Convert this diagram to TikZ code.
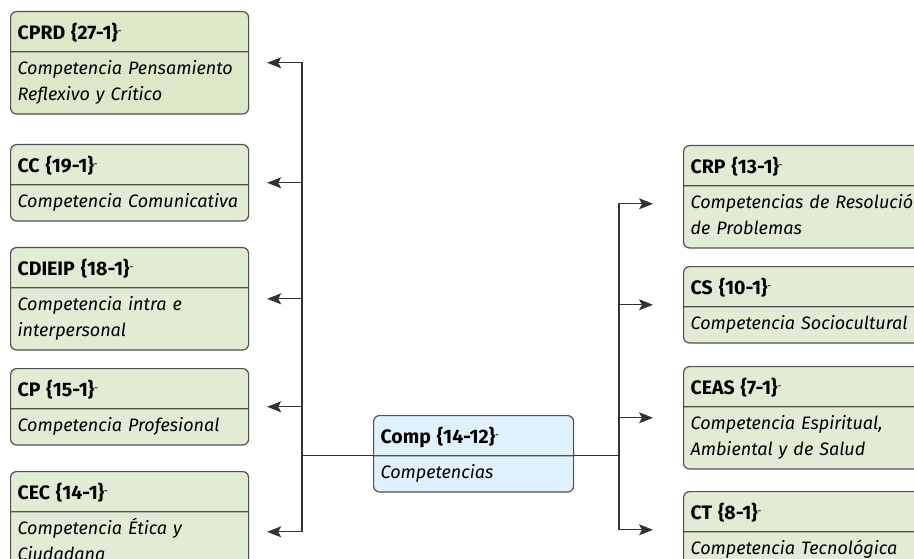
\documentclass[tikz,border=0pt]{standalone}
\usepackage{fontspec}
\setmainfont{Fira Sans}
\usetikzlibrary{arrows.meta, positioning, shapes.multipart}
\definecolor{cardgreen}{RGB}{226, 236, 213}
\definecolor{topgreen}{RGB}{221, 232, 200}
\definecolor{rootblue}{RGB}{223, 241, 252}
\definecolor{cardline}{RGB}{80, 80, 80}
\definecolor{linkgray}{RGB}{51, 51, 51}

\newcommand{\tildemark}{\raisebox{0.3em}{\scriptsize\textasciitilde}}
\newcommand{\cardtext}[2]{{\fontsize{19.5}{26}\selectfont\bfseries #1\tildemark}\rule[-12pt]{0pt}{39pt}\nodepart{two}\itshape\rule{0pt}{22pt}#2\rule[-13pt]{0pt}{13pt}}

\begin{document}
\begin{tikzpicture}[x=1pt, y=-1pt,
        card/.style={rectangle split, rectangle split parts=2, draw=cardline, line width=1.2pt, fill=cardgreen, rounded corners=6pt, text width=224pt, inner xsep=7pt, inner ysep=0pt, align=left, anchor=north west, font=\fontsize{18}{26}\selectfont},
        rcard/.style={card, text width=260pt},
        root/.style={card, fill=rootblue, text width=186pt},
        link/.style={-{Stealth[length=14pt, width=11pt, inset=3pt]}, draw=linkgray, line width=1.1pt},
        trunk/.style={draw=linkgray, line width=1.1pt}
    ]
        \useasboundingbox (0,0) rectangle (914,559);
        \clip (0,0) rectangle (914,559);

        % Competencias a la izquierda
        \node[card, fill=topgreen] (cprd) at (10,11) {\cardtext{CPRD \{27-1\}}{Competencia Pensamiento\\Reflexivo y Crítico}};
        \node[card] (cc) at (10,144) {\cardtext{CC \{19-1\}}{Competencia Comunicativa}};
        \node[card] (cdieip) at (10,247) {\cardtext{CDIEIP \{18-1\}}{Competencia intra e\\interpersonal}};
        \node[card] (cp) at (10,368) {\cardtext{CP \{15-1\}}{Competencia Profesional}};
        \node[card] (cec) at (10,471) {\cardtext{CEC \{14-1\}}{Competencia Ética y\\Ciudadana}};

        % Nodo central
        \node[root] (comp) at (373,415) {\cardtext{Comp \{14-12\}}{Competencias}};

        % Competencias a la derecha
        \node[rcard] (crp) at (683,145) {\cardtext{CRP \{13-1\}}{Competencias de Resolución\\de Problemas}};
        \node[rcard] (cs) at (683,266) {\cardtext{CS \{10-1\}}{Competencia Sociocultural}};
        \node[rcard] (ceas) at (683,366) {\cardtext{CEAS \{7-1\}}{Competencia Espiritual,\\Ambiental y de Salud}};
        \node[rcard] (ct) at (683,491) {\cardtext{CT \{8-1\}}{Competencia Tecnológica}};

        % Troncos
        \coordinate (trunkL) at (comp.text split west -| 302,0);
        \coordinate (trunkR) at (comp.text split east -| 619,0);
        \draw[trunk] (comp.text split west) -- (trunkL);
        \draw[trunk] (comp.text split east) -- (trunkR);

        % Enlaces
        \draw[link] (trunkL) |- ([xshift=18pt]cprd.east);
        \draw[link] (trunkL) |- ([xshift=18pt]cc.east);
        \draw[link] (trunkL) |- ([xshift=18pt]cdieip.east);
        \draw[link] (trunkL) |- ([xshift=18pt]cp.east);
        \draw[link] (trunkL) |- ([xshift=18pt, yshift=-9pt]cec.east);
        \draw[link] (trunkR) |- ([xshift=-30pt, yshift=-7pt]crp.west);
        \draw[link] (trunkR) |- ([xshift=-30pt]cs.west);
        \draw[link] (trunkR) |- ([xshift=-30pt]ceas.west);
        \draw[link] (trunkR) |- ([xshift=-30pt]ct.west);
    \end{tikzpicture}
\end{document}
